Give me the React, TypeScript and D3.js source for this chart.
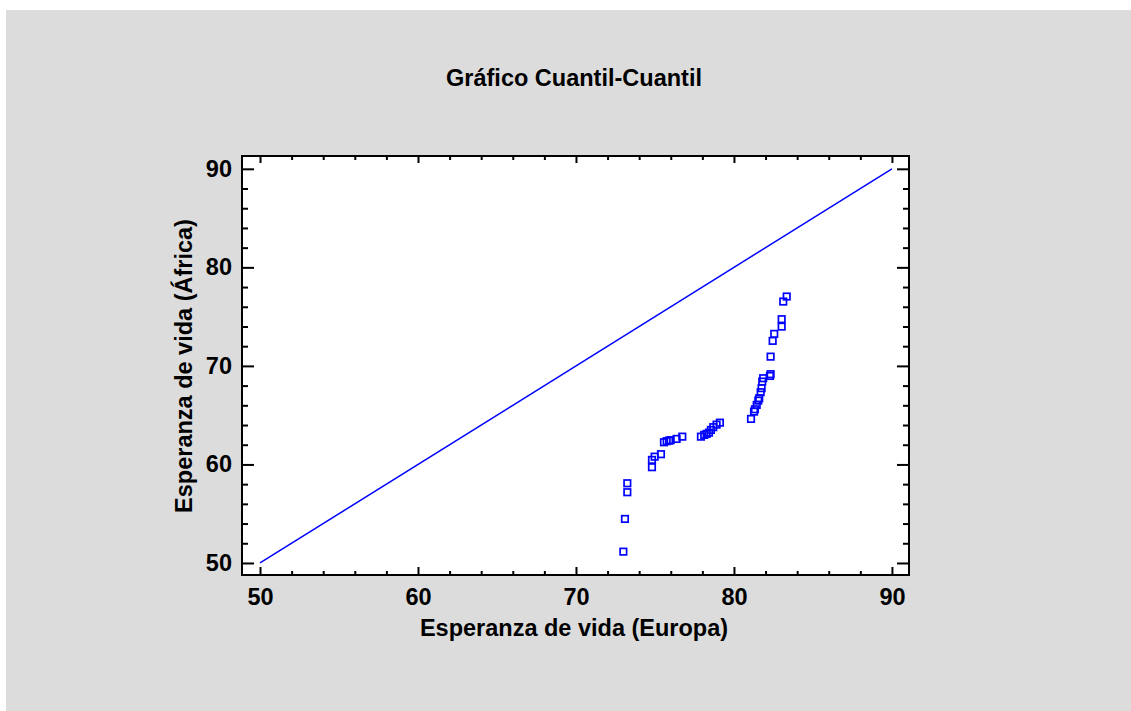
import { useEffect, useRef } from "react";
import * as d3 from "d3";

// Q-Q pairs (sorted quantiles)
const europa = [
  73.0, 73.1, 73.25, 73.25, 74.81, 74.81, 74.98, 75.38, 75.57, 75.74, 75.89,
  75.99, 76.37, 76.73, 77.91, 78.12, 78.27, 78.42, 78.54, 78.69, 78.9, 79.11,
  81.08, 81.27, 81.33, 81.44, 81.54, 81.6, 81.69, 81.75, 81.79, 81.85, 82.28,
  82.32, 82.32, 82.45, 82.55, 83.02, 83.02, 83.12, 83.34,
];
const africa = [
  51.15, 54.47, 57.18, 58.09, 59.72, 60.46, 60.79, 61.04, 62.25, 62.36, 62.42,
  62.46, 62.59, 62.82, 62.82, 63.0, 63.1, 63.23, 63.5, 63.78, 64.04, 64.24,
  64.62, 65.36, 65.6, 66.04, 66.48, 66.72, 67.33, 67.74, 68.41, 68.75, 68.98,
  69.16, 70.94, 72.54, 73.25, 73.99, 74.74, 76.53, 77.04,
];
const refLine = [50, 90];
const majorTicks = [50, 60, 70, 80, 90];
const minorTicks = d3.range(50, 91, 2).filter((v) => v % 10 !== 0);

const W = 1131;
const H = 711;
const FRAME = { left: 242, top: 156, right: 909, bottom: 575 };
const BLUE = "#0000ff";
const FONT = "'Liberation Sans', Arial, sans-serif";
const FS = 23.5;

export default function App() {
  const svgRef = useRef<SVGSVGElement>(null);

  useEffect(() => {
    if (!svgRef.current) return;
    const svg = d3.select(svgRef.current);
    svg.selectAll("*").remove();

    svg.append("rect").attr("width", W).attr("height", H).attr("fill", "#fff");
    svg.append("rect").attr("x", 6).attr("y", 10).attr("width", W - 6).attr("height", H - 10).attr("fill", "#dcdcdc");

    const x = d3.scaleLinear().domain([48.86, 91.08]).range([FRAME.left, FRAME.right]);
    const y = d3.scaleLinear().domain([48.78, 91.3]).range([FRAME.bottom, FRAME.top]);

    const iw = FRAME.right - FRAME.left;
    const ih = FRAME.bottom - FRAME.top;

    svg.append("rect")
      .attr("x", FRAME.left).attr("y", FRAME.top)
      .attr("width", iw).attr("height", ih)
      .attr("fill", "#fff");

    const styleAxis = (ax: d3.Selection<SVGGElement, unknown, null, undefined>) => {
      ax.select(".domain").remove();
      ax.selectAll("line").attr("stroke", "#000").attr("stroke-width", 2);
      ax.selectAll("text")
        .attr("fill", "#000")
        .attr("font-family", FONT)
        .attr("font-weight", "bold")
        .attr("font-size", FS);
    };

    // bottom
    svg.append("g").attr("transform", `translate(0,${FRAME.bottom})`)
      .call(d3.axisBottom(x).tickValues(majorTicks).tickSize(-8).tickPadding(13).tickFormat(d3.format("d")))
      .call(styleAxis);
    svg.append("g").attr("transform", `translate(0,${FRAME.bottom})`)
      .call(d3.axisBottom(x).tickValues(minorTicks).tickSize(-4).tickFormat(() => ""))
      .call(styleAxis);
    // top
    svg.append("g").attr("transform", `translate(0,${FRAME.top})`)
      .call(d3.axisTop(x).tickValues(majorTicks).tickSize(-7).tickFormat(() => ""))
      .call(styleAxis);
    svg.append("g").attr("transform", `translate(0,${FRAME.top})`)
      .call(d3.axisTop(x).tickValues(minorTicks).tickSize(-4).tickFormat(() => ""))
      .call(styleAxis);
    // left
    svg.append("g").attr("transform", `translate(${FRAME.left},0)`)
      .call(d3.axisLeft(y).tickValues(majorTicks).tickSize(-12).tickPadding(10).tickFormat(d3.format("d")))
      .call(styleAxis);
    svg.append("g").attr("transform", `translate(${FRAME.left},0)`)
      .call(d3.axisLeft(y).tickValues(minorTicks).tickSize(-6).tickFormat(() => ""))
      .call(styleAxis);
    // right
    svg.append("g").attr("transform", `translate(${FRAME.right},0)`)
      .call(d3.axisRight(y).tickValues(majorTicks).tickSize(-12).tickFormat(() => ""))
      .call(styleAxis);
    svg.append("g").attr("transform", `translate(${FRAME.right},0)`)
      .call(d3.axisRight(y).tickValues(minorTicks).tickSize(-6).tickFormat(() => ""))
      .call(styleAxis);

    // frame
    svg.append("rect")
      .attr("x", FRAME.left).attr("y", FRAME.top)
      .attr("width", iw).attr("height", ih)
      .attr("fill", "none").attr("stroke", "#000").attr("stroke-width", 2);

    // reference line y = x
    svg.append("line")
      .attr("x1", x(refLine[0])).attr("y1", y(refLine[0]))
      .attr("x2", x(refLine[1])).attr("y2", y(refLine[1]))
      .attr("stroke", BLUE).attr("stroke-width", 1.5);

    // points
    const s = 6.5;
    svg.append("g")
      .selectAll("rect")
      .data(europa.map((e, i) => [e, africa[i]]))
      .join("rect")
      .attr("x", (d) => x(d[0]) - s / 2)
      .attr("y", (d) => y(d[1]) - s / 2)
      .attr("width", s).attr("height", s)
      .attr("fill", "none").attr("stroke", BLUE).attr("stroke-width", 1.7);

    // titles
    const txt = (t: string, px: number, py: number, rot = 0) =>
      svg.append("text")
        .attr("transform", `translate(${px},${py}) rotate(${rot})`)
        .attr("text-anchor", "middle")
        .attr("font-family", FONT).attr("font-weight", "bold").attr("font-size", FS)
        .attr("fill", "#000")
        .text(t);

    txt("Gráfico Cuantil-Cuantil", 574, 86);
    txt("Esperanza de vida (Europa)", 574, 636);
    txt("Esperanza de vida (África)", 192, 366, -90);
  }, []);

  return (
    <div style={{ position: "absolute", left: 0, top: 0 }}>
      <svg ref={svgRef} width={W} height={H} style={{ display: "block" }} />
    </div>
  );
}
